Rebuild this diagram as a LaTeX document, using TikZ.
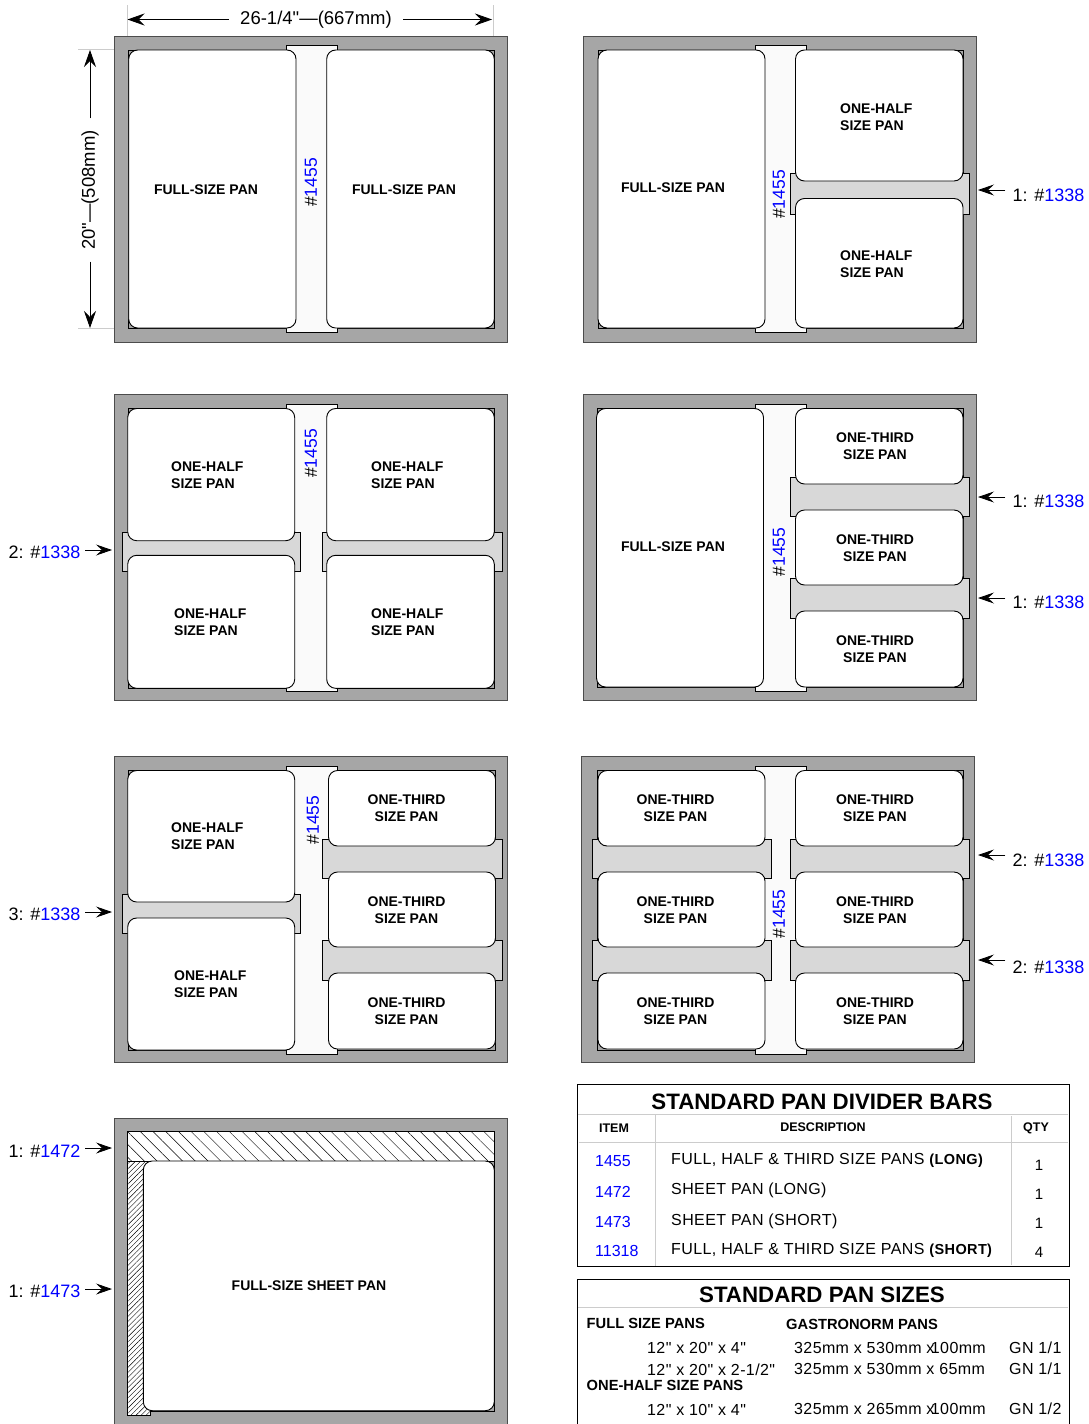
\documentclass[tikz,border=0pt]{standalone}
\usepackage{fontspec}
\usepackage{xcolor}
\usepackage{tikz}
\usetikzlibrary{arrows.meta, patterns.meta}
\setmainfont{Liberation Sans}
\newfontfamily\dimfont{Liberation Sans}
\newfontfamily\descfont[LetterSpace=2.6]{Liberation Sans}
\newfontfamily\sizefont[LetterSpace=2.4]{Liberation Sans}
\definecolor{traygray}{HTML}{A6A6A6}
\definecolor{barlight}{HTML}{D8D8D8}
\definecolor{barwhite}{HTML}{FAFAFA}
\definecolor{itemblue}{HTML}{0000FF}
\definecolor{rulegray}{HTML}{CCCCCC}
\tikzstyle{pan.tray} = [fill=traygray, draw=black!70, line width=0.9pt]
\tikzstyle{pan.well} = [draw=black, line width=1pt]
\tikzstyle{pan.long} = [fill=barwhite, draw=black, line width=1pt]
\tikzstyle{pan.short} = [fill=barlight, draw=black, line width=1pt]
\tikzstyle{pan.body} = [fill=white, draw=black, line width=0.9pt, rounded corners=9pt]
\tikzstyle{pan.long_sheet} = [draw=black, line width=1pt, fill=white, postaction={pattern={Lines[angle=-45,distance=9pt,line width=0.45pt]}}]
\tikzstyle{pan.short_sheet} = [draw=black, line width=1pt, fill=white, postaction={pattern={Lines[angle=45,distance=3.6pt,line width=0.4pt]}}]
\tikzstyle{pan.label} = [inner sep=0pt, yshift=-1pt, align=left, font=\fontsize{14}{17}\selectfont\bfseries]
\tikzstyle{pan.third} = [inner sep=0pt, yshift=-1pt, align=center, font=\fontsize{14}{17}\selectfont\bfseries]
\tikzstyle{bar.tag} = [inner sep=0pt, rotate=90, font=\fontsize{17.5}{20}\selectfont]
\tikzstyle{bar.qty} = [inner xsep=7pt, inner ysep=0pt, font=\fontsize{18}{20}\selectfont]
\tikzstyle{bar.qty_left} = [bar.qty, inner xsep=4.5pt]
\tikzstyle{dim.text} = [inner xsep=11.5pt, inner ysep=0pt, font=\fontsize{18.5}{20}\dimfont]
\tikzstyle{dim.flow} = [-{Stealth[length=17pt,width=12pt,inset=6pt]}, line width=0.8pt, black]
\tikzstyle{dim.ext} = [draw=rulegray, line width=0.5pt]
\tikzstyle{bar.flow} = [-{Stealth[length=16pt,width=11pt,inset=6pt]}, line width=0.8pt, black]
\tikzstyle{table.box} = [draw=black, line width=0.9pt]
\tikzstyle{table.rule} = [draw=rulegray, line width=0.7pt]
\tikzstyle{table.title} = [inner sep=0pt, font=\fontsize{22.3}{24}\selectfont\bfseries]
\tikzstyle{table.head} = [inner sep=0pt, font=\fontsize{12.5}{14}\selectfont\bfseries]
\tikzstyle{table.item} = [inner sep=0pt, anchor=west, text=itemblue, font=\fontsize{16}{18}\selectfont]
\tikzstyle{table.desc} = [inner sep=0pt, anchor=west, yshift=-1.5pt, font=\fontsize{16}{18}\descfont]
\tikzstyle{table.qty} = [inner sep=0pt, font=\fontsize{15}{18}\selectfont]
\tikzstyle{table.group} = [inner sep=0pt, anchor=west, font=\fontsize{14.7}{17}\selectfont\bfseries]
\tikzstyle{table.size} = [inner sep=0pt, anchor=west, yshift=-0.5pt, font=\fontsize{16}{18}\sizefont]
\newcommand{\tagtext}{\#\textcolor{itemblue}{1455}}
\newcommand{\qtytext}[2]{#1: \#\textcolor{itemblue}{#2}}
\begin{document}
\begin{tikzpicture}[x=1pt, y=-1pt]
\useasboundingbox (0,0) rectangle (1089,1424);
\clip (0,0) rectangle (1089,1424);

\draw[dim.ext] (127.5,5) -- (127.5,42);
\draw[dim.ext] (493,5) -- (493,42);
\draw[dim.ext] (78,49.5) -- (128,49.5);
\draw[dim.ext] (78,328) -- (128,328);

\draw[pan.tray] (114.8,36) rectangle (507.8,342);
\draw[pan.well] (128.7,50) rectangle (494.3,328);
\draw[pan.long] (286.7,45.7) rectangle (337.7,332.3);
\draw[pan.body] (128.7,50) rectangle (296,328);
\draw[pan.body] (326.7,50) rectangle (494.3,328);
\node[pan.label] (full_a1) at (206,189) {FULL-SIZE PAN};
\node[pan.label] (full_a2) at (404,189) {FULL-SIZE PAN};
\node[bar.tag] (tag_a) at (311,182.5) {\tagtext};

\coordinate (dim_w_l) at (127.5,19.5);
\coordinate (dim_w_r) at (492,19.5);
\coordinate (dim_h_t) at (90,50);
\coordinate (dim_h_b) at (90,328);
\node[dim.text] (dim_w) at (316,19.5) {\raisebox{-1pt}{26-1/4"—(667mm)}};
\node[dim.text, rotate=90] (dim_h) at (90,190) {\raisebox{-1pt}{20"—(508mm)}};
\draw[dim.flow] (dim_w.west) -- (dim_w_l);
\draw[dim.flow] (dim_w.east) -- (dim_w_r);
\draw[dim.flow] (dim_h.east) -- (dim_h_t);
\draw[dim.flow] (dim_h.west) -- (dim_h_b);

\draw[pan.tray] (583.8,36) rectangle (976.8,342);
\draw[pan.well] (598,50) rectangle (963,328);
\draw[pan.long] (755,45.7) rectangle (806,332.3);
\draw[pan.short] (790.7,173) rectangle (969.3,214);
\draw[pan.body] (598,50) rectangle (765,328);
\draw[pan.body] (795.5,50) rectangle (963,181);
\draw[pan.body] (795.5,198.5) rectangle (963,328);
\node[pan.label] (full_b) at (673,187) {FULL-SIZE PAN};
\node[pan.label, anchor=west] (half_b1) at (840,116.5) {ONE-HALF\\SIZE PAN};
\node[pan.label, anchor=west] (half_b2) at (840,263.5) {ONE-HALF\\SIZE PAN};
\node[bar.tag] (tag_b) at (779,194.5) {\tagtext};
\coordinate (tip_b) at (978,190);
\node[bar.qty] (qty_b) at (1048.5,195) {\qtytext{1}{1338}};
\draw[bar.flow] (qty_b.west |- tip_b) -- (tip_b);

\draw[pan.tray] (114.8,394.5) rectangle (507.8,700.5);
\draw[pan.well] (128.7,408.5) rectangle (494.3,688);
\draw[pan.long] (286.7,404) rectangle (337.7,691.7);
\draw[pan.short] (122.3,532) rectangle (300.7,571.3);
\draw[pan.short] (322,532) rectangle (502,571.3);
\draw[pan.body] (127.7,408.5) rectangle (294.7,540.7);
\draw[pan.body] (127.7,555.3) rectangle (294.7,688.3);
\draw[pan.body] (326.7,408.5) rectangle (494.3,540.7);
\draw[pan.body] (326.7,555.3) rectangle (494.3,688.3);
\node[pan.label, anchor=west] (half_c1) at (171,474.5) {ONE-HALF\\SIZE PAN};
\node[pan.label, anchor=west] (half_c2) at (174,621.5) {ONE-HALF\\SIZE PAN};
\node[pan.label, anchor=west] (half_c3) at (371,474.5) {ONE-HALF\\SIZE PAN};
\node[pan.label, anchor=west] (half_c4) at (371,621.5) {ONE-HALF\\SIZE PAN};
\node[bar.tag] (tag_c) at (311,453.5) {\tagtext};
\coordinate (tip_c) at (112,550);
\node[bar.qty_left] (qty_c) at (44.5,552) {\qtytext{2}{1338}};
\draw[bar.flow] (qty_c.east |- tip_c) -- (tip_c);

\draw[pan.tray] (583.8,394.5) rectangle (976.8,700.5);
\draw[pan.well] (597,408.5) rectangle (963,687);
\draw[pan.long] (755,404) rectangle (806,691.7);
\draw[pan.short] (790.7,477) rectangle (969.3,516);
\draw[pan.short] (790.7,578) rectangle (969.3,618);
\draw[pan.body] (596.5,408.5) rectangle (763.5,687);
\draw[pan.body] (795.5,408.5) rectangle (963,484);
\draw[pan.body] (795.5,510) rectangle (963,585);
\draw[pan.body] (795.5,611) rectangle (963,687);
\node[pan.label] (full_d) at (673,546) {FULL-SIZE PAN};
\node[pan.third] (third_d1) at (875,445.5) {ONE-THIRD\\SIZE PAN};
\node[pan.third] (third_d2) at (875,547.5) {ONE-THIRD\\SIZE PAN};
\node[pan.third] (third_d3) at (875,648.5) {ONE-THIRD\\SIZE PAN};
\node[bar.tag] (tag_d) at (779,552) {\tagtext};
\coordinate (tip_d1) at (978,497);
\coordinate (tip_d2) at (978,598);
\node[bar.qty] (qty_d1) at (1048.5,501) {\qtytext{1}{1338}};
\node[bar.qty] (qty_d2) at (1048.5,602) {\qtytext{1}{1338}};
\draw[bar.flow] (qty_d1.west |- tip_d1) -- (tip_d1);
\draw[bar.flow] (qty_d2.west |- tip_d2) -- (tip_d2);

\draw[pan.tray] (114.8,756.5) rectangle (507.8,1062.5);
\draw[pan.well] (128.7,770.5) rectangle (495.5,1050);
\draw[pan.long] (286.7,766) rectangle (337.7,1054);
\draw[pan.short] (122.3,894) rectangle (300.7,933);
\draw[pan.short] (322,839) rectangle (502,878);
\draw[pan.short] (322,940) rectangle (502,980);
\draw[pan.body] (127.7,770.5) rectangle (294.7,902);
\draw[pan.body] (127.7,918) rectangle (294.7,1050);
\draw[pan.body] (328.5,770.5) rectangle (495.5,846);
\draw[pan.body] (328.5,872) rectangle (495.5,947);
\draw[pan.body] (328.5,973) rectangle (495.5,1049);
\node[pan.label, anchor=west] (half_e1) at (171,835.5) {ONE-HALF\\SIZE PAN};
\node[pan.label, anchor=west] (half_e2) at (174,983.5) {ONE-HALF\\SIZE PAN};
\node[pan.third] (third_e1) at (406.5,807.5) {ONE-THIRD\\SIZE PAN};
\node[pan.third] (third_e2) at (406.5,909.5) {ONE-THIRD\\SIZE PAN};
\node[pan.third] (third_e3) at (406.5,1010.5) {ONE-THIRD\\SIZE PAN};
\node[bar.tag] (tag_e) at (313,820) {\tagtext};
\coordinate (tip_e) at (112,912);
\node[bar.qty_left] (qty_e) at (44.5,914) {\qtytext{3}{1338}};
\draw[bar.flow] (qty_e.east |- tip_e) -- (tip_e);

\draw[pan.tray] (581.8,756.5) rectangle (974.8,1062.5);
\draw[pan.well] (597,770.5) rectangle (963,1050);
\draw[pan.long] (755,766) rectangle (806,1054);
\draw[pan.short] (592,839) rectangle (771,878);
\draw[pan.short] (592,940) rectangle (771,980);
\draw[pan.short] (790.7,839) rectangle (969.3,878);
\draw[pan.short] (790.7,940) rectangle (969.3,980);
\draw[pan.body] (598,770.5) rectangle (765,846);
\draw[pan.body] (598,872) rectangle (765,947);
\draw[pan.body] (598,973) rectangle (765,1049);
\draw[pan.body] (795.5,770.5) rectangle (963,846);
\draw[pan.body] (795.5,872) rectangle (963,947);
\draw[pan.body] (795.5,973) rectangle (963,1049);
\node[pan.third] (third_f1) at (675.5,807.5) {ONE-THIRD\\SIZE PAN};
\node[pan.third] (third_f2) at (675.5,909.5) {ONE-THIRD\\SIZE PAN};
\node[pan.third] (third_f3) at (675.5,1010.5) {ONE-THIRD\\SIZE PAN};
\node[pan.third] (third_f4) at (875,807.5) {ONE-THIRD\\SIZE PAN};
\node[pan.third] (third_f5) at (875,909.5) {ONE-THIRD\\SIZE PAN};
\node[pan.third] (third_f6) at (875,1010.5) {ONE-THIRD\\SIZE PAN};
\node[bar.tag] (tag_f) at (779,914) {\tagtext};
\coordinate (tip_f1) at (978,855);
\coordinate (tip_f2) at (978,960);
\node[bar.qty] (qty_f1) at (1048.5,860) {\qtytext{2}{1338}};
\node[bar.qty] (qty_f2) at (1048.5,967) {\qtytext{2}{1338}};
\draw[bar.flow] (qty_f1.west |- tip_f1) -- (tip_f1);
\draw[bar.flow] (qty_f2.west |- tip_f2) -- (tip_f2);

\draw[pan.tray] (114.8,1118.5) rectangle (507.8,1430);
\draw[pan.short_sheet] (127,1161) rectangle (150.7,1415.7);
\draw[pan.long_sheet] (127,1131) rectangle (494.3,1161);
\draw[pan.well] (150.7,1411) -- (494.3,1411) -- (494.3,1161);
\draw[pan.body] (143.3,1161) rectangle (494.3,1410.7);
\node[pan.label] (full_g) at (309,1285) {FULL-SIZE SHEET PAN};
\coordinate (tip_g1) at (112,1148);
\coordinate (tip_g2) at (112,1289);
\node[bar.qty_left] (qty_g1) at (44.5,1151) {\qtytext{1}{1472}};
\node[bar.qty_left] (qty_g2) at (44.5,1291) {\qtytext{1}{1473}};
\draw[bar.flow] (qty_g1.east |- tip_g1) -- (tip_g1);
\draw[bar.flow] (qty_g2.east |- tip_g2) -- (tip_g2);

\draw[table.box] (577.3,1084.7) rectangle (1069.3,1266);
\draw[table.rule] (578,1114.5) -- (1068,1114.5);
\draw[table.rule] (579,1142) -- (1068,1142);
\draw[table.rule] (655.5,1115) -- (655.5,1265.5);
\draw[table.rule] (1011.5,1116) -- (1011.5,1265);
\node[table.title] (bars_title) at (822,1101.5) {STANDARD PAN DIVIDER BARS};
\node[table.head] (bars_item) at (614,1128) {ITEM};
\node[table.head] (bars_desc) at (823,1127.5) {DESCRIPTION};
\node[table.head] (bars_qty) at (1036,1128.5) {QTY};
\node[table.item] (item_a) at (595,1161) {1455};
\node[table.item] (item_b) at (595,1191.5) {1472};
\node[table.item] (item_c) at (595,1221.5) {1473};
\node[table.item] (item_d) at (595,1251) {11318};
\node[table.desc] (desc_a) at (671,1158.5) {FULL, HALF \& THIRD SIZE PANS {\fontsize{14.5}{18}\selectfont\bfseries (LONG)}};
\node[table.desc] (desc_b) at (671,1188.5) {SHEET PAN (LONG)};
\node[table.desc] (desc_c) at (671,1219.5) {SHEET PAN (SHORT)};
\node[table.desc] (desc_d) at (671,1248.5) {FULL, HALF \& THIRD SIZE PANS {\fontsize{14.5}{18}\selectfont\bfseries (SHORT)}};
\node[table.qty] (qty_a) at (1039,1165) {1};
\node[table.qty] (qty_b) at (1039,1194) {1};
\node[table.qty] (qty_c) at (1039,1223) {1};
\node[table.qty] (qty_d) at (1039,1252.5) {4};

\draw[table.box] (577.3,1279.5) rectangle (1069.3,1440);
\draw[table.rule] (578,1307.5) -- (1068,1307.5);
\node[table.title] (sizes_title) at (822,1294.5) {STANDARD PAN SIZES};
\node[table.group] (group_full) at (586.5,1323) {FULL SIZE PANS};
\node[table.group] (group_gastro) at (786,1324) {GASTRONORM PANS};
\node[table.size] (size_a1) at (647,1347) {12" x 20" x 4"};
\node[table.size] (size_a2) at (794,1347) {325mm x 530mm x\kern-3.5pt 100mm};
\node[table.size] (size_a3) at (1009,1347) {GN 1/1};
\node[table.size] (size_b1) at (647,1369) {12" x 20" x 2-1/2"};
\node[table.size] (size_b2) at (794,1368.5) {325mm x 530mm x 65mm};
\node[table.size] (size_b3) at (1009,1368) {GN 1/1};
\node[table.group] (group_half) at (586.5,1385) {ONE-HALF SIZE PANS};
\node[table.size] (size_c1) at (647,1409) {12" x 10" x 4"};
\node[table.size] (size_c2) at (794,1408) {325mm x 265mm x\kern-3.5pt 100mm};
\node[table.size] (size_c3) at (1009,1408) {GN 1/2};
\node[table.size] (size_d1) at (647,1431) {12" x 10" x 2-1/2"};
\node[table.size] (size_d2) at (794,1430.5) {325mm x 265mm x 65mm};
\node[table.size] (size_d3) at (1009,1430) {GN 1/2};
\end{tikzpicture}
\end{document}
